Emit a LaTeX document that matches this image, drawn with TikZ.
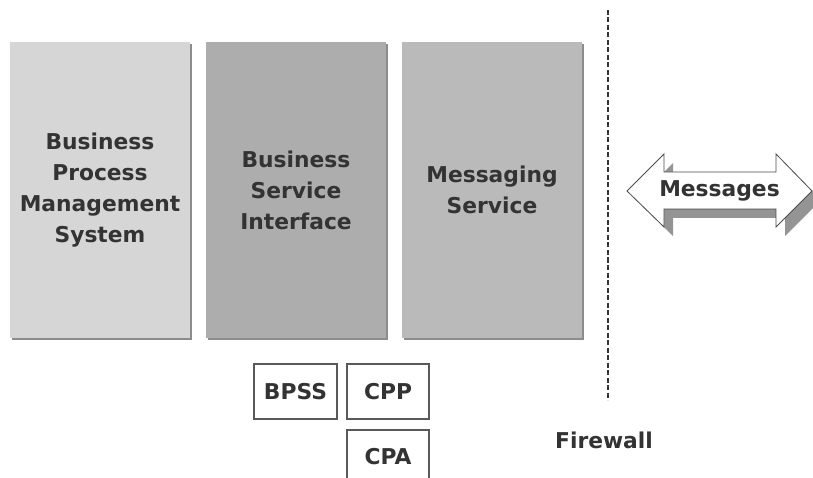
\documentclass[tikz,border=0pt]{standalone}
\usepackage{fontspec}
\setmainfont{DejaVu Sans}
\usetikzlibrary{shadows}
\begin{document}
\begin{tikzpicture}[x=1pt,y=-1pt,
  txt/.style={font=\bfseries\fontsize{21.8}{31}\selectfont, text=black!80, align=center},
  layer/.style={txt, draw=none, minimum width=180pt, minimum height=296pt, inner sep=0pt,
    drop shadow={shadow xshift=2pt, shadow yshift=-2pt, fill=black!45, opacity=1}},
  tag/.style={txt, draw=black!65, line width=1.2pt, fill=white, inner sep=0pt, minimum height=55pt},
  wall/.style={black!80, line width=2pt, dash pattern=on 5pt off 2.5pt}
]
\useasboundingbox (0,0) rectangle (813,478);
\clip (0,0) rectangle (813,478);

% three layers of the stack
\node[layer, fill=black!16] (bpms) at (100,190) {Business\\Process\\Management\\System};
\node[layer, fill=black!32] (bsi)  at (296,190) {Business\\Service\\Interface};
\node[layer, fill=black!27] (ms)   at (492,190) {Messaging\\Service};

% specification documents
\node[tag, minimum width=83pt] (bpss) at (295.5,391.5) {BPSS};
\node[tag, minimum width=82pt] (cpp)  at (388,391.5) {CPP};
\node[tag, minimum width=82pt, minimum height=70pt] (cpa) at (388,465) {};
\node[txt] (cpatxt) at (388,457) {CPA};

% firewall line and its label
\coordinate (fwtop) at (608,10);
\coordinate (fwbot) at (608,400);
\draw[wall] (fwtop) -- (fwbot);
\node[txt] (fw) at (604,440) {Firewall};

% two-headed message arrow with its shadow
\fill[black!42, shift={(9,9)}]
  (627,191) -- (664,154) -- (664,172) -- (776,172) -- (776,154) -- (812,191)
  -- (776,227) -- (776,209) -- (664,209) -- (664,227) -- cycle;
\draw[black!70, line width=0.8pt, fill=white]
  (627,191) -- (664,154) -- (664,172) -- (776,172) -- (776,154) -- (812,191)
  -- (776,227) -- (776,209) -- (664,209) -- (664,227) -- cycle;
\node[txt] (msg) at (719.5,191) {Messages};
\end{tikzpicture}
\end{document}
